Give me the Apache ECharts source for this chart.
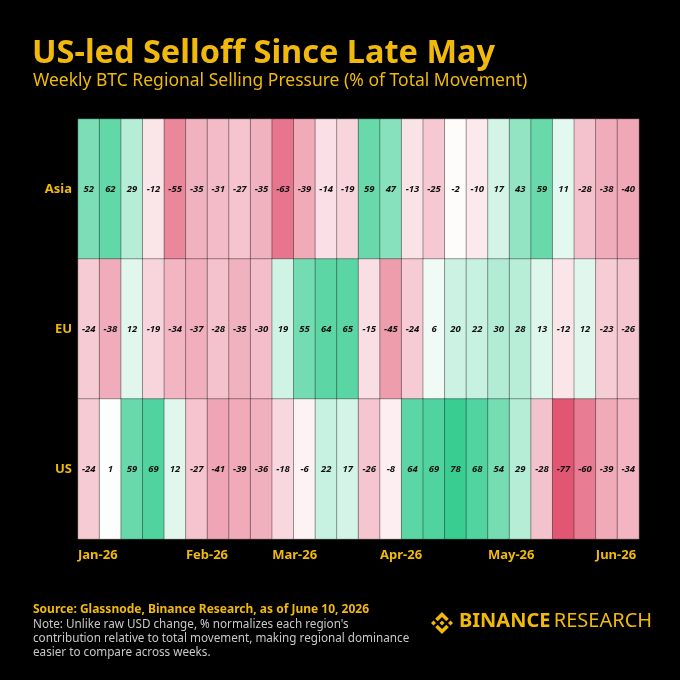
<!DOCTYPE html>
<html><head><meta charset="utf-8">
<script src="https://cdn.jsdelivr.net/npm/echarts@6/dist/echarts.min.js"></script>
<style>html,body{margin:0;padding:0;background:#000}#c{width:680px;height:680px}</style>
</head><body><div id="c"></div>
<script>
const regions = ['Asia', 'EU', 'US'];
const weeks = ['W1','W2','W3','W4','W5','W6','W7','W8','W9','W10','W11','W12','W13','W14','W15','W16','W17','W18','W19','W20','W21','W22','W23','W24','W25','W26'];
const monthTicks = ['Jan-26','','','','','Feb-26','','','','Mar-26','','','','','Apr-26','','','','','May-26','','','','','Jun-26','',''];
const asia = [52, 62, 29, -12, -55, -35, -31, -27, -35, -63, -39, -14, -19, 59, 47, -13, -25, -2, -10, 17, 43, 59, 11, -28, -38, -40];
const eu = [-24, -38, 12, -19, -34, -37, -28, -35, -30, 19, 55, 64, 65, -15, -45, -24, 6, 20, 22, 30, 28, 13, -12, 12, -23, -26];
const us = [-24, 1, 59, 69, 12, -27, -41, -39, -36, -18, -6, 22, 17, -26, -8, 64, 69, 78, 68, 54, 29, -28, -77, -60, -39, -34];

const seriesByRegion = [asia, eu, us];
const data = [];
seriesByRegion.forEach((vals, r) => vals.forEach((v, i) => data.push([i, r, v])));

const GOLD = '#F0B90B';
const FONT = 'Noto Sans';
const chart = echarts.init(document.getElementById('c'), null, {renderer: 'canvas'});

// Binance logo polygons (unit 126.61 box)
const logoPolys = [
  [[38.73,53.2],[63.3,28.63],[87.89,53.21],[102.19,38.91],[63.3,0],[24.42,38.9]],
  [[0,63.31],[14.3,49.01],[28.6,63.31],[14.3,77.61]],
  [[38.73,73.41],[63.31,97.99],[87.89,73.4],[102.2,87.7],[63.31,126.61],[24.42,87.72]],
  [[98.01,63.31],[112.31,49.01],[126.61,63.3],[112.31,77.61]],
  [[77.81,63.3],[63.31,48.79],[48.81,63.29],[63.31,77.8]]
];
const lScale = 22 / 126.61, lx = 431, ly = 612;
const logoGraphics = logoPolys.map(p => ({
  type: 'polygon',
  shape: {points: p.map(([x, y]) => [lx + x * lScale, ly + y * lScale])},
  style: {fill: GOLD}
}));

chart.setOption({
  backgroundColor: '#000',
  textStyle: {fontFamily: FONT},
  title: [
    {text: 'US-led Selloff Since Late May', left: 32, top: 37, padding: 0,
     textStyle: {color: GOLD, fontSize: 32.5, fontWeight: 'bold', fontFamily: FONT}},
    {text: 'Weekly BTC Regional Selling Pressure (% of Total Movement)', left: 33, top: 72, padding: 0,
     textStyle: {color: GOLD, fontSize: 17.5, fontWeight: 'normal', fontFamily: FONT}},
    {text: 'Source: Glassnode, Binance Research, as of June 10, 2026', left: 33, top: 604, padding: 0,
     textStyle: {color: GOLD, fontSize: 12, fontWeight: 'bold', fontFamily: FONT}},
    {text: "Note: Unlike raw USD change, % normalizes each region's\ncontribution relative to total movement, making regional dominance\neasier to compare across weeks.",
     left: 33, top: 618, padding: 0,
     textStyle: {color: '#c8c8c8', fontSize: 11.7, fontWeight: 'normal', lineHeight: 14, fontFamily: FONT}}
  ],
  graphic: [
    ...logoGraphics,
    {type: 'text', left: 459, top: 611,
     style: {text: '{b|BINANCE} {r|RESEARCH}', rich: {
       b: {fill: GOLD, fontSize: 20, fontWeight: 'bold', fontFamily: FONT},
       r: {fill: GOLD, fontSize: 20, fontWeight: 'normal', fontFamily: FONT}
     }}}
  ],
  grid: {left: 78, right: 41, top: 119, bottom: 141, containLabel: false},
  xAxis: [
    {type: 'category', data: weeks, gridIndex: 0, position: 'bottom',
     axisLine: {show: false}, axisTick: {show: false}, axisLabel: {show: false}, splitLine: {show: false}},
    {type: 'category', data: monthTicks, gridIndex: 0, position: 'bottom', boundaryGap: false,
     axisLine: {show: false}, axisTick: {show: false}, splitLine: {show: false},
     axisLabel: {show: true, interval: 0, align: 'left', margin: 10, color: GOLD,
       fontSize: 13, fontWeight: 'bold', fontFamily: FONT}}
  ],
  yAxis: {type: 'category', data: regions, inverse: true,
    axisLine: {show: false}, axisTick: {show: false}, splitLine: {show: false},
    axisLabel: {color: GOLD, fontSize: 13, fontWeight: 'bold', margin: 6, fontFamily: FONT}},
  visualMap: {show: false, type: 'continuous', min: -80, max: 80, dimension: 2,
    inRange: {color: ['#e0506e', '#ffffff', '#34cc8f']}},
  series: [{
    type: 'heatmap', xAxisIndex: 0, yAxisIndex: 0, data: data,
    itemStyle: {borderColor: 'rgba(0,0,0,0.35)', borderWidth: 1},
    label: {show: true, formatter: p => p.value[2], color: '#111', fontSize: 9.5,
      fontWeight: 'bold', fontStyle: 'italic', fontFamily: FONT},
    emphasis: {disabled: true}
  }]
});
</script></body></html>
